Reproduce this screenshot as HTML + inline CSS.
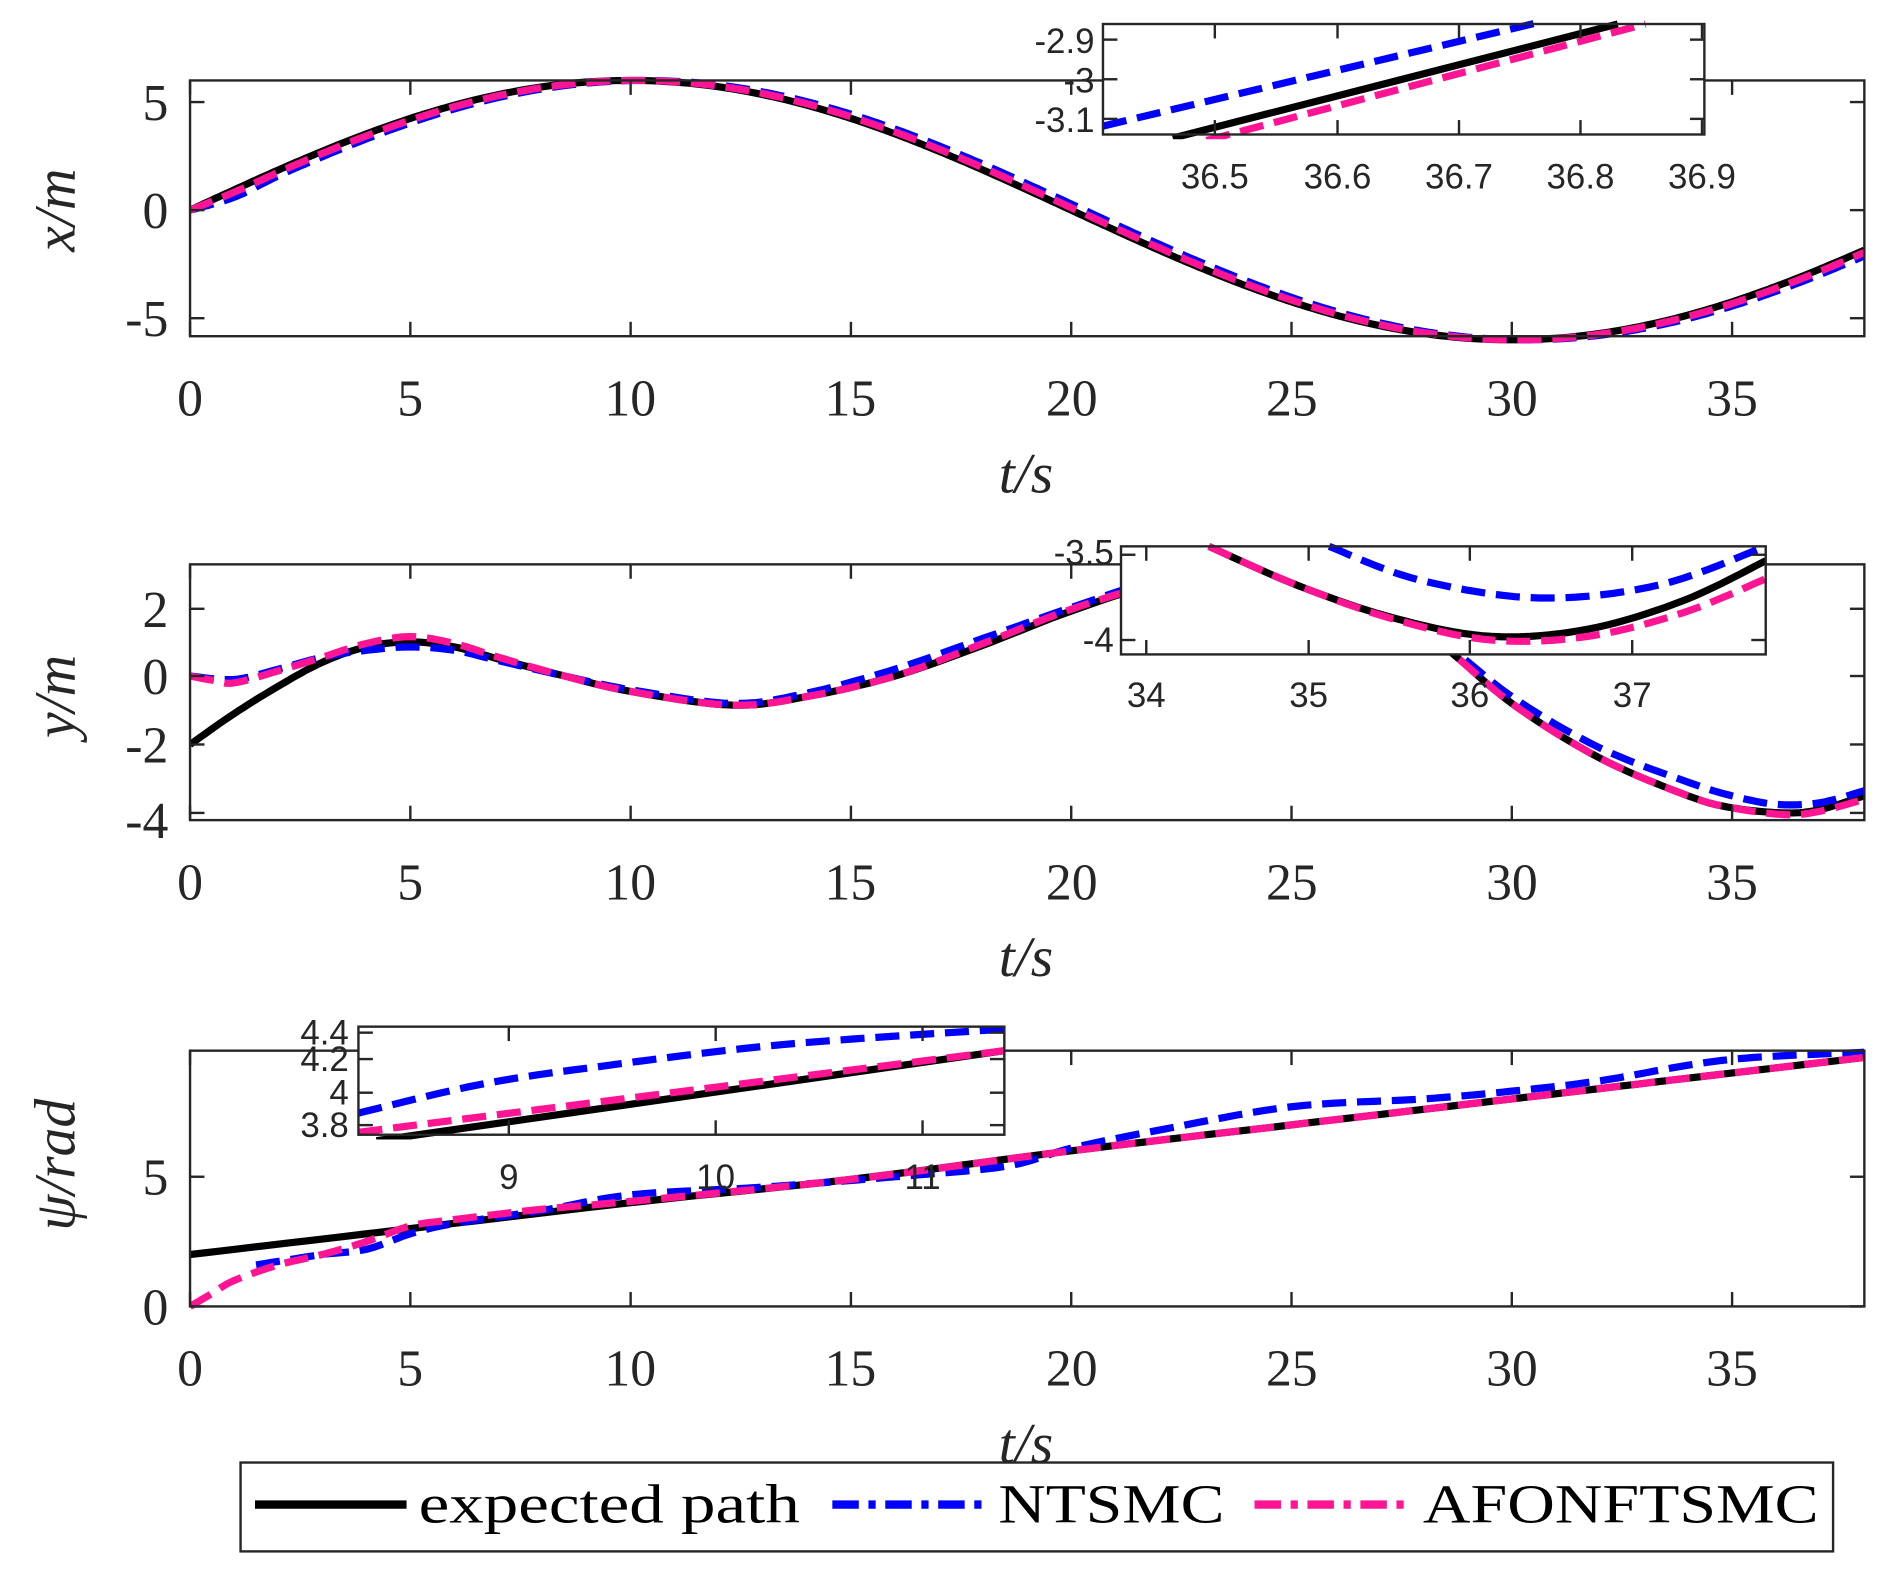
<!DOCTYPE html>
<html><head><meta charset="utf-8">
<style>
html,body{margin:0;padding:0;background:#fff;}
svg{display:block;}
.tk{font-family:"Liberation Serif",serif;font-size:43px;fill:#262626;}
.it{font-family:"Liberation Serif",serif;font-style:italic;font-size:48px;fill:#262626;}
.sm{font-family:"Liberation Sans",sans-serif;font-size:29px;fill:#262626;}
.lg{font-family:"Liberation Serif",serif;font-size:46px;fill:#000;}
</style></head>
<body>
<svg id="s" width="1886" height="1573" viewBox="0 0 1568 1310" preserveAspectRatio="none" xmlns="http://www.w3.org/2000/svg">
<rect width="1568" height="1310" fill="#fff"/>
<g id="g"></g>
<g class="tk" text-anchor="middle">
<text x="158" y="346">0</text><text x="341" y="346">5</text><text x="524" y="346">10</text><text x="707" y="346">15</text><text x="891" y="346">20</text><text x="1074" y="346">25</text><text x="1257" y="346">30</text><text x="1440" y="346">35</text>
<text x="158" y="749">0</text><text x="341" y="749">5</text><text x="524" y="749">10</text><text x="707" y="749">15</text><text x="891" y="749">20</text><text x="1074" y="749">25</text><text x="1257" y="749">30</text><text x="1440" y="749">35</text>
<text x="158" y="1154">0</text><text x="341" y="1154">5</text><text x="524" y="1154">10</text><text x="707" y="1154">15</text><text x="891" y="1154">20</text><text x="1074" y="1154">25</text><text x="1257" y="1154">30</text><text x="1440" y="1154">35</text>
</g>
<g class="tk" text-anchor="end">
<text x="140" y="100">5</text><text x="140" y="190">0</text><text x="140" y="280">-5</text>
<text x="140" y="522">2</text><text x="140" y="578">0</text><text x="140" y="635">-2</text><text x="140" y="698">-4</text>
<text x="140" y="995">5</text><text x="140" y="1103">0</text>
</g>
<g class="it" text-anchor="middle">
<text x="853" y="410">t/s</text><text x="853" y="813">t/s</text><text x="853" y="1218">t/s</text>
<text transform="translate(62,175) rotate(-90)">x/m</text>
<text transform="translate(62,580) rotate(-90)">y/m</text>
<text transform="translate(62,970) rotate(-90)">ψ/rad</text>
</g>
<g id="ins"></g>
<rect x="200" y="1218" width="1324" height="74" fill="#fff" stroke="#262626" stroke-width="2"/>
<line x1="212" y1="1253" x2="338" y2="1253" stroke="#000" stroke-width="7"/>
<line x1="692" y1="1253" x2="820" y2="1253" stroke="#0000ff" stroke-width="7" stroke-dasharray="22 8 6 8"/>
<line x1="1043" y1="1253" x2="1170" y2="1253" stroke="#ff1493" stroke-width="7" stroke-dasharray="22 8 6 8"/>
<text class="lg" x="348" y="1268" textLength="317" lengthAdjust="spacingAndGlyphs">expected path</text>
<text class="lg" x="830" y="1268" textLength="188" lengthAdjust="spacingAndGlyphs">NTSMC</text>
<text class="lg" x="1183" y="1268" textLength="329" lengthAdjust="spacingAndGlyphs">AFONFTSMC</text>
</svg>
<script>
const NS="http://www.w3.org/2000/svg";
function el(p,n,a){const e=document.createElementNS(NS,n);for(const k in a)e.setAttribute(k,a[k]);p.appendChild(e);return e;}
function cr(pts){
  let out=[];
  for(let i=0;i<pts.length-1;i++){
    const p0=pts[Math.max(0,i-1)],p1=pts[i],p2=pts[i+1],p3=pts[Math.min(pts.length-1,i+2)];
    for(let s=0;s<10;s++){const t=s/10,t2=t*t,t3=t2*t;
      const f=(a,b,c,d)=>0.5*((2*b)+(-a+c)*t+(2*a-5*b+4*c-d)*t2+(-a+3*b-3*c+d)*t3);
      out.push([f(p0[0],p1[0],p2[0],p3[0]),f(p0[1],p1[1],p2[1],p3[1])]);}
  }
  out.push(pts[pts.length-1]);return out;
}
function path(g,pts,X,Y,col,dash){
  const q=cr(pts).map(p=>X(p[0]).toFixed(1)+","+Y(p[1]).toFixed(1));
  const a={d:"M"+q.join("L"),fill:"none",stroke:col,"stroke-width":6,"stroke-linejoin":"round"};
  if(dash)a["stroke-dasharray"]="20 9";
  el(g,"path",a);
}
const g=document.getElementById("g");
function axes(g,x0,y0,x1,y1,xt,yt){
  el(g,"rect",{x:x0,y:y0,width:x1-x0,height:y1-y0,fill:"none",stroke:"#262626","stroke-width":2});
  xt.forEach(x=>{el(g,"line",{x1:x,y1:y1,x2:x,y2:y1-12,stroke:"#262626","stroke-width":2});el(g,"line",{x1:x,y1:y0,x2:x,y2:y0+12,stroke:"#262626","stroke-width":2});});
  yt.forEach(y=>{el(g,"line",{x1:x0,y1:y,x2:x0+12,y2:y,stroke:"#262626","stroke-width":2});el(g,"line",{x1:x1,y1:y,x2:x1-12,y2:y,stroke:"#262626","stroke-width":2});});
}
const X=t=>158+t*36.63;
const xt=[0,5,10,15,20,25,30,35].map(X);
function clipG(id,x0,y0,x1,y1){const c=el(g,"clipPath",{id:id});el(c,"rect",{x:x0,y:y0,width:x1-x0,height:y1-y0});return el(g,"g",{"clip-path":"url(#"+id+")"});}
{
 const Y=v=>175-v*18;
 const s=(t,sh)=>{let p=[];for(let k=0;k<=38;k+=1)p.push([k,6*Math.sin(2*Math.PI*(k-sh)/40)]);return p;};
 const c=clipG("c1",158,60,1552,290);
 path(c,s(0,0),X,Y,"#000",false);
 path(c,s(0,0.3).map((p,i)=>i<2?[p[0],p[1]*(i==0?0:0.9)]:p),X,Y,"#0000ff",true);
 path(c,s(0,0.12).map((p,i)=>i==0?[0,0]:p),X,Y,"#ff1493",true);
 axes(g,158,67,1550,280,xt,[85,175,265]);
}
{
 const Y=v=>563-v*28.5;
 const blk=[[0,-2],[1,-1.1],[2,-0.3],[3,0.4],[4,0.85],[5,1.0],[6,0.85],[7,0.5],[8.5,0],[10,-0.45],[12.3,-0.85],[14,-0.6],[16,0],[18,0.9],[20,1.9],[22,2.7],[24,3.0],[26,2.5],[28,1.3],[30,-0.8],[32,-2.4],[34,-3.5],[35,-3.85],[36.2,-4.0],[37,-3.9],[38,-3.5]];
 const pnk=[[0,0],[0.5,-0.12],[1,-0.2],[2,0.15],[3,0.55],[4,0.95],[5,1.15],[6,0.95],[7,0.55],[8.5,0],[10,-0.45],[12.3,-0.85],[14,-0.6],[16,0],[18,0.95],[20,1.95],[22,2.7],[24,3.0],[26,2.5],[28,1.3],[30,-0.8],[32,-2.4],[34,-3.5],[35,-3.85],[36.2,-4.05],[37,-3.95],[38,-3.6]];
 const blu=[[0,0],[1,-0.1],[2,0.2],[3,0.55],[4,0.75],[5,0.85],[6,0.75],[7,0.45],[8.5,0],[10,-0.4],[12.3,-0.8],[14,-0.5],[16,0.2],[18,1.1],[20,2.0],[22,2.8],[24,3.0],[26,2.6],[28,1.4],[30,-0.6],[32,-2.1],[34,-3.1],[35,-3.5],[36,-3.75],[37,-3.7],[38,-3.35]];
 const c=clipG("c2",158,465,1552,690);
 path(c,blk,X,Y,"#000",false);path(c,blu,X,Y,"#0000ff",true);path(c,pnk,X,Y,"#ff1493",true);
 axes(g,158,470,1550,683,xt,[507,563,620,677]);
}
{
 const Y=v=>1088-v*21.6;
 const blk=[[0,2],[5,3.0],[10,4.0],[15,4.9],[20,6.0],[25,7.0],[30,8.0],[34,8.8],[38,9.6]];
 const pnk=[[0,0],[0.5,0.5],[1,1.0],[2,1.6],[3,2.0],[4,2.5],[5,3.1],[6,3.35],[8,3.75],[10,4.05],[15,4.9],[20,6.0],[25,7.0],[30,8.0],[34,8.8],[38,9.6]];
 const blu=[[1.5,1.6],[3,2.0],[4,2.2],[5,2.8],[6,3.2],[8,3.7],[10,4.3],[13,4.6],[16,5.0],[18.5,5.4],[20,6.1],[22,6.8],[25,7.7],[28,8.0],[30,8.3],[32,8.7],[34,9.3],[35.5,9.6],[38,9.8]];
 const c=clipG("c3",158,870,1552,1095);
 path(c,blk,X,Y,"#000",false);path(c,blu,X,Y,"#0000ff",true);path(c,pnk,X,Y,"#ff1493",true);
 axes(g,158,875,1550,1088,xt,[980,1088]);
}
const ins=document.getElementById("ins");
function inset(id,x0,y0,x1,y1,lines,xt,yt,xl,yl){
 el(ins,"rect",{x:x0,y:y0,width:x1-x0,height:y1-y0,fill:"#fff"});
 const c=el(ins,"clipPath",{id:id});el(c,"rect",{x:x0-4,y:y0-4,width:x1-x0+8,height:y1-y0+8});
 const gg=el(ins,"g",{"clip-path":"url(#"+id+")"});
 lines.forEach(l=>{const a={d:"M"+l[0].map(p=>p.join(",")).join("L"),fill:"none",stroke:l[1],"stroke-width":6};if(l[2])a["stroke-dasharray"]="20 9";el(gg,"path",a);});
 axes(ins,x0,y0,x1,y1,xt,yt);
 xl.forEach(a=>{const t=el(ins,"text",{x:a[0],y:a[1],"text-anchor":"middle",class:"sm"});t.textContent=a[2];});
 yl.forEach(a=>{const t=el(ins,"text",{x:a[0],y:a[1],"text-anchor":"end",class:"sm"});t.textContent=a[2];});
}
function sm(p){return cr(p).map(q=>[q[0].toFixed(1),q[1].toFixed(1)]);}
inset("i1",917,20,1417,112,[
 [[[975,115],[1345,20]],"#000",false],
 [[[917,105],[1282,18]],"#0000ff",true],
 [[[1003,117],[1368,20]],"#ff1493",true]],
 [1010,1112,1213,1314,1415],[33,66,99],
 [[1010,157,"36.5"],[1112,157,"36.6"],[1213,157,"36.7"],[1314,157,"36.8"],[1415,157,"36.9"]],
 [[910,44,"-2.9"],[910,77,"-3"],[910,110,"-3.1"]]);
inset("i2",932,455,1468,545,[
 [sm([[1005,455],[1080,488],[1160,515],[1240,530],[1320,524],[1400,500],[1468,467]]),"#000",false],
 [sm([[1105,455],[1180,483],[1280,498],[1380,487],[1468,455]]),"#0000ff",true],
 [sm([[1005,455],[1080,488],[1160,516],[1240,533],[1320,530],[1400,510],[1468,482]]),"#ff1493",true]],
 [953,1088,1222,1357],[462,533],
 [[953,589,"34"],[1088,589,"35"],[1222,589,"36"],[1357,589,"37"]],
 [[926,470,"-3.5"],[926,543,"-4"]]);
inset("i3",298,855,835,945,[
 [[[313,950],[835,875]],"#000",false],
 [sm([[298,927],[400,903],[500,888],[650,870],[835,857]]),"#0000ff",true],
 [[[298,943],[835,875]],"#ff1493",true]],
 [423,595,767],[860,882,910,937],
 [[423,990,"9"],[595,990,"10"],[767,990,"11"]],
 [[290,870,"4.4"],[290,892,"4.2"],[290,920,"4"],[290,947,"3.8"]]);
</script>
</body></html>
